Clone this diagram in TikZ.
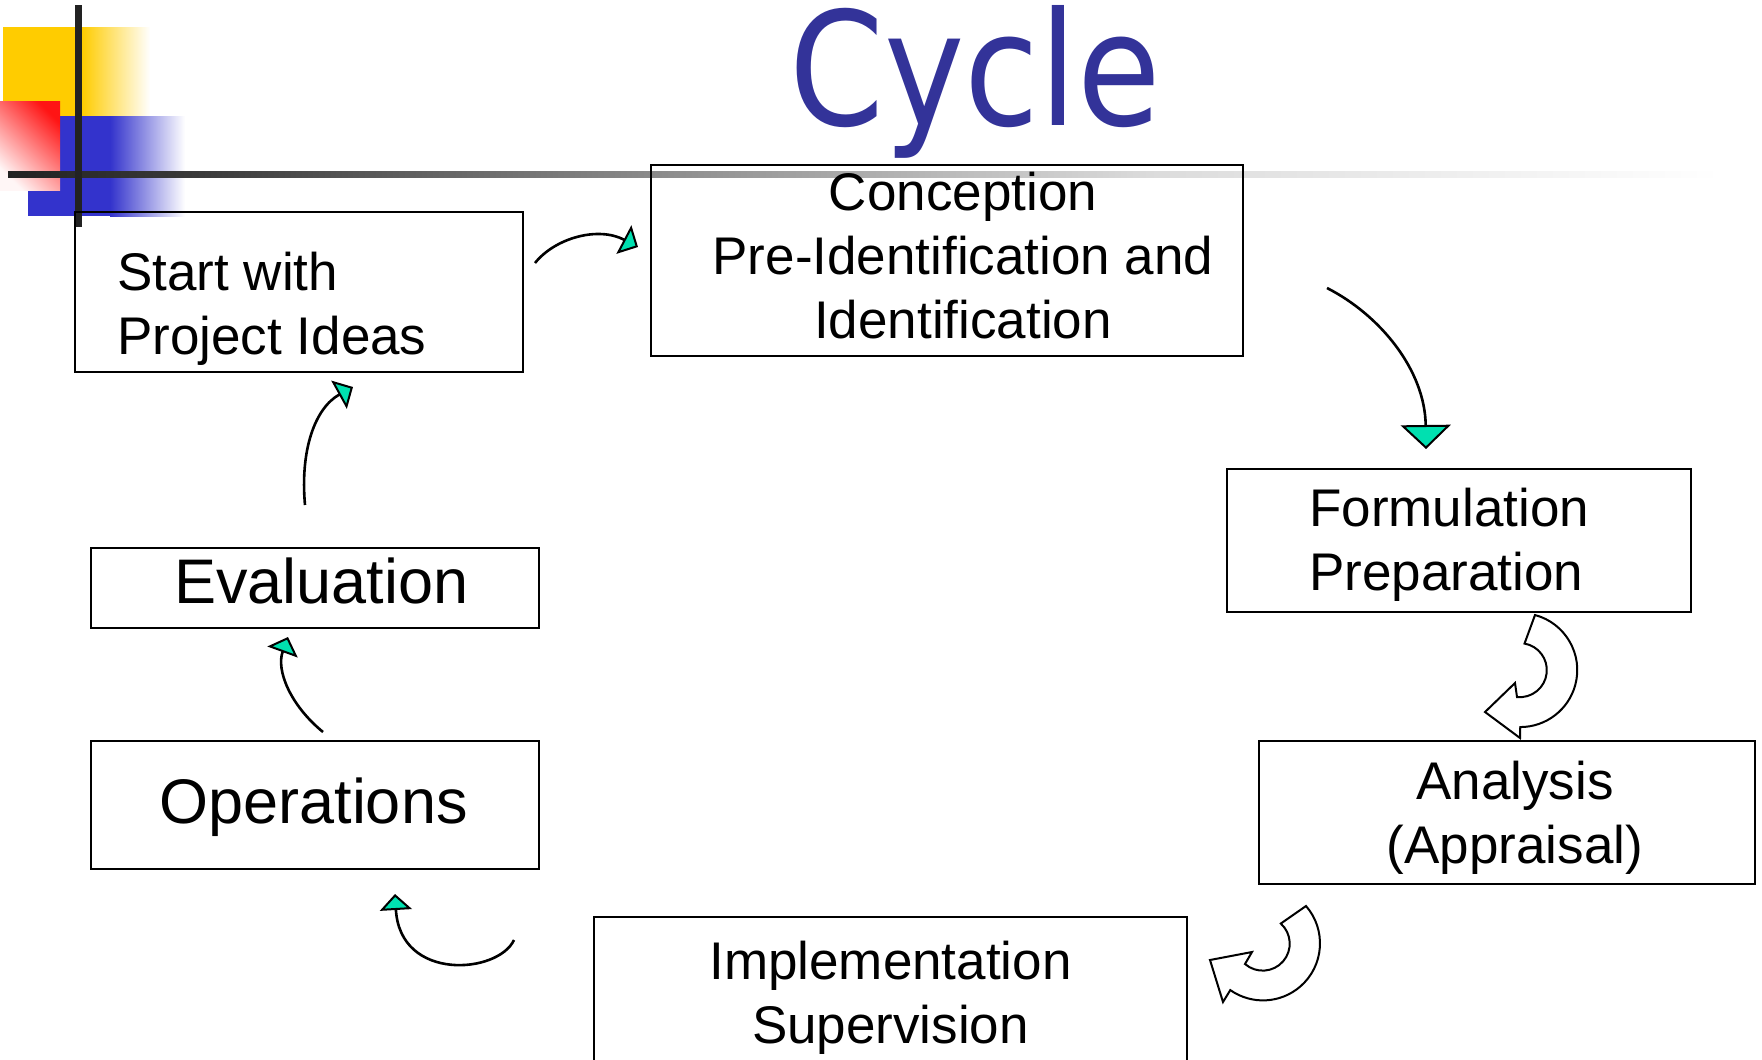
\documentclass[tikz,border=0pt]{standalone}
\usepackage{fontspec}
\setmainfont{Liberation Sans}
\newfontfamily\titlefont{DejaVu Sans}
\usetikzlibrary{arrows.meta}

\definecolor{titleBlue}{RGB}{51,51,153}
\definecolor{headTeal}{RGB}{0,224,176}
\definecolor{decoYellow}{RGB}{255,204,0}
\definecolor{decoBlue}{RGB}{51,51,204}
\definecolor{decoRed}{RGB}{255,20,20}
\definecolor{barDark}{RGB}{34,34,34}

\begin{document}
\begin{tikzpicture}[x=1pt, y=-1pt,
  box/.style={draw, line width=2.2pt, inner sep=0pt},
  boxText/.style={inner sep=0pt, anchor=base, font=\fontsize{53}{64}\selectfont},
  bigText/.style={inner sep=0pt, anchor=base, font=\fontsize{63}{72}\selectfont},
  flow/.style={line width=2.6pt, -{Triangle[length=16pt, width=32pt, fill=headTeal, line width=2pt]}},
  turn/.style={draw, line width=2pt, fill=white, line join=miter}]
\useasboundingbox (0,0) rectangle (1762,1060);

\fill[decoYellow] (3,27) rectangle (82,116);
\shade[left color=decoYellow, right color=white] (82,27) rectangle (150,116);
\fill[decoBlue] (28,116) rectangle (110,216);
\shade[left color=decoBlue, right color=white] (110,116) rectangle (185,216);
\shade[shading=axis, top color=decoRed, bottom color=decoRed!4, shading angle=-45] (0,101) rectangle (60,190);
\shade[left color=barDark, right color=black!77] (8,171) rectangle (200,177);
\shade[left color=black!77, right color=black!46] (200,171) rectangle (650,177);
\shade[left color=black!46, right color=black!14] (650,171) rectangle (1150,177);
\shade[left color=black!14, right color=white] (1150,171) rectangle (1720,177);
\fill[barDark] (75,5) rectangle (82,227);

\node[anchor=base, inner sep=0pt, text=titleBlue, font=\titlefont\fontsize{158}{160}\selectfont] (title) at (975,125) {\scalebox{0.86}[1]{Cycle}};

\node[box, minimum width=448pt, minimum height=160pt] (startBox) at (299,292) {};
\node[box, minimum width=592pt, minimum height=191pt] (conceptionBox) at (947,260.5) {};
\node[box, minimum width=464pt, minimum height=143pt] (formulationBox) at (1459,540.5) {};
\node[box, minimum width=496pt, minimum height=143pt] (analysisBox) at (1507,812.5) {};
\node[box, minimum width=593pt, minimum height=163pt] (implementationBox) at (890.5,998.5) {};
\node[box, minimum width=448pt, minimum height=128pt] (operationsBox) at (315,805) {};
\node[box, minimum width=448pt, minimum height=80pt] (evaluationBox) at (315,588) {};

\node[boxText, anchor=base west, align=left] (startText) at (117,354) {Start with\\Project Ideas};
\node[boxText, align=center] (conceptionText) at (963,338) {Conception\\Pre-Identification and\\Identification};
\node[boxText, anchor=base west, align=left] (formulationText) at (1309,590) {Formulation\\Preparation};
\node[boxText, align=center] (analysisText) at (1515,863) {Analysis\\(Appraisal)};
\node[boxText, align=center] (implementationText) at (890.5,1043) {Implementation\\Supervision};
\node[bigText] (operationsText) at (313.5,823) {Operations};
\node[bigText] (evaluationText) at (321.5,603) {Evaluation};

\coordinate (startOut) at (535,263);
\coordinate (conceptionIn) at (638,247);
\coordinate (conceptionOut) at (1327,288);
\coordinate (formulationIn) at (1426,449);
\coordinate (implementationOut) at (514,940);
\coordinate (operationsIn) at (395,894);
\coordinate (operationsOut) at (323,732);
\coordinate (evaluationIn) at (288,637);
\coordinate (evaluationOut) at (305,505);
\coordinate (startIn) at (353,387);

\draw[flow] (startOut) .. controls (555,238) and (598,226) .. (conceptionIn);
\draw[flow, -{Triangle[length=24pt, width=50pt, fill=headTeal, line width=2pt]}] (conceptionOut) .. controls (1380,315) and (1425,370) .. (formulationIn);
\draw[flow] (implementationOut) .. controls (498,974) and (400,982) .. (operationsIn);
\draw[flow] (operationsOut) .. controls (290,705) and (276,670) .. (evaluationIn);
\draw[flow] (evaluationOut) .. controls (300,450) and (315,408) .. (startIn);

\draw[turn] (1535,615) arc[start angle=-75, end angle=90, radius=57] -- (1520,738) -- (1485,712) -- (1515,683) -- (1517,697) arc[start angle=96, end angle=-80, radius=27] -- cycle;
\draw[turn] (1306,906) arc[start angle=-41, end angle=125, radius=57] -- (1223,1002) -- (1210,960) -- (1252,952) -- (1245,964) arc[start angle=131, end angle=-48, radius=27] -- cycle;
\end{tikzpicture}
\end{document}
